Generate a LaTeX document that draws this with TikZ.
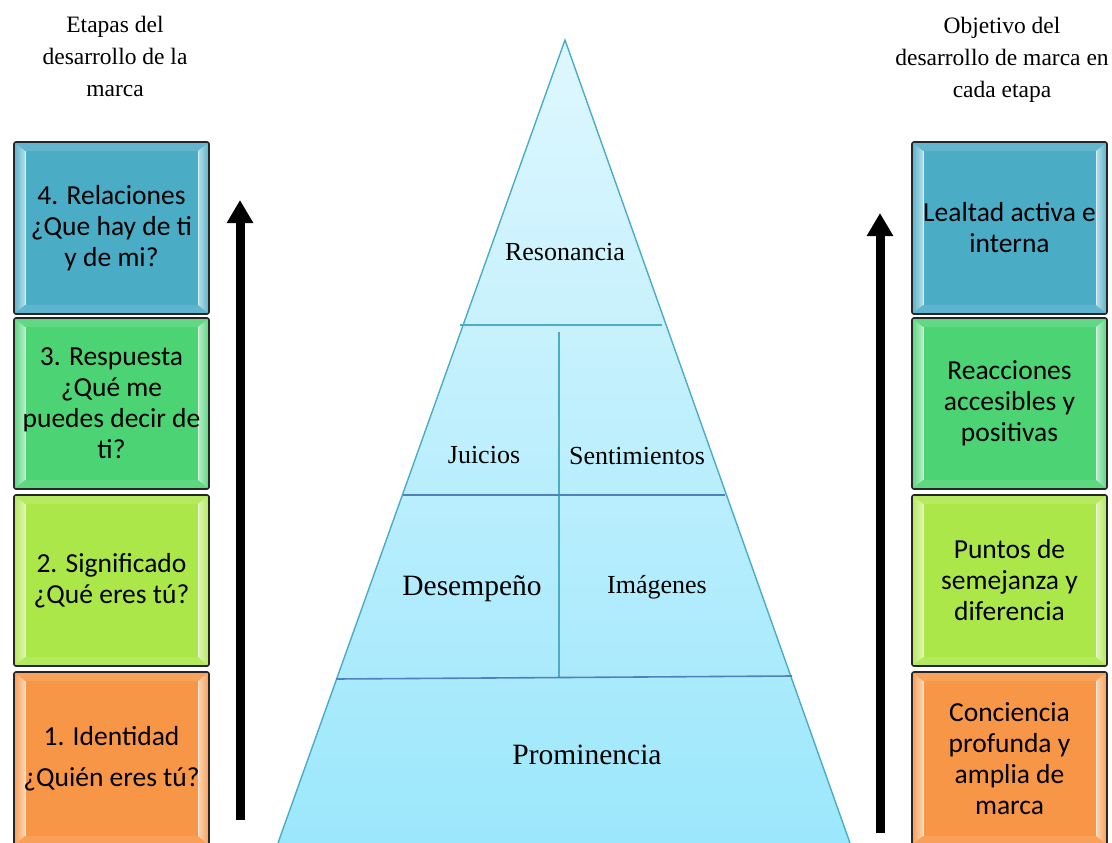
\documentclass[tikz,border=0pt]{standalone}
\usepackage{fontspec}
\setmainfont{Liberation Serif}
\newfontfamily\boxfont{Carlito}
\usetikzlibrary{arrows.meta}
\definecolor{boxblue}{HTML}{4BACC6}
\definecolor{boxgreen}{HTML}{4CD373}
\definecolor{boxlime}{HTML}{ACE74A}
\definecolor{boxorange}{HTML}{F79646}
\definecolor{pyrtop}{HTML}{DFF7FE}
\definecolor{pyrbot}{HTML}{9CE7FC}
\definecolor{pyrline}{HTML}{4BACC6}
\definecolor{pyrdark}{HTML}{4F81BD}
\definecolor{boxedge}{HTML}{262626}
\tikzset{
  boxtext/.style={align=center, inner sep=0pt, font=\boxfont\fontsize{27.5}{31}\selectfont},
  boxborder/.style={draw=boxedge, line width=1.6pt, rounded corners=2pt},
  titletext/.style={align=center, inner sep=0pt, font=\fontsize{23.5}{32}\selectfont},
  pyrsmall/.style={inner sep=0pt, font=\fontsize{26}{30}\selectfont},
  pyrlarge/.style={inner sep=0pt, font=\fontsize{29.5}{34}\selectfont},
  pyrsep/.style={draw=pyrline, line width=1.4pt},
  pyrsepdark/.style={draw=pyrdark, line width=1.6pt},
  uparrow/.style={line width=9pt, -{Triangle[width=25pt,length=23pt]}},
}
% name, x1, y1, x2, y2, colour, text
\newcommand\bevbox[7]{%
  \fill[#6] (#2,#3) rectangle (#4,#5);
  \fill[#6!88!white] (#2,#3) -- (#4,#3) -- (#4-11,#3+9) -- (#2+11,#3+9) -- cycle;
  \fill[#6!90!white] (#2,#5) -- (#4,#5) -- (#4-11,#5-9) -- (#2+11,#5-9) -- cycle;
  \shade[left color=#6!92!white, right color=#6!40!white] (#2,#3) -- (#2+11,#3+9) -- (#2+11,#5-9) -- (#2,#5) -- cycle;
  \shade[left color=#6!40!white, right color=#6!92!white] (#4,#3) -- (#4-11,#3+9) -- (#4-11,#5-9) -- (#4,#5) -- cycle;
  \draw[#6!20!white, line width=0.8pt] (#2+11,#3+9) -- (#2+11,#5-9);
  \draw[#6!20!white, line width=0.8pt] (#4-11,#3+9) -- (#4-11,#5-9);
  \draw[boxborder] (#2,#3) rectangle (#4,#5);
  \node[boxtext] (#1) at ({(#2+#4)/2},{(#3+#5)/2}) {#7};
}
\begin{document}
\begin{tikzpicture}[x=1pt,y=-1pt]
\useasboundingbox (0,0) rectangle (1112,843);
\clip (0,0) rectangle (1112,843);

% titles
\node[titletext] (tleft) at (115,56) {Etapas del\\desarrollo de la\\marca};
\node[titletext] (tright) at (1002,60) {Objetivo del\\desarrollo de marca en\\cada etapa};

% pyramid
\coordinate (apex) at (565,40);
\coordinate (bl) at (278,843);
\coordinate (br) at (850,843);
\shade[top color=pyrtop, bottom color=pyrbot] (apex) -- (bl) -- (br) -- cycle;
\draw[pyrsep] (bl) -- (apex) -- (br);
\coordinate (h1l) at (460,325); \coordinate (h1r) at (662,325);
\coordinate (h2l) at (403,495); \coordinate (h2r) at (725,495);
\coordinate (h3l) at (336,679); \coordinate (h3r) at (792,676);
\coordinate (v1t) at (559,332); \coordinate (v1b) at (559,495);
\coordinate (v2b) at (559,678);
\draw[pyrsep] (h1l) -- (h1r);
\draw[pyrsep] (v1t) -- (v1b);
\draw[pyrsep] (v1b) -- (v2b);
\draw[pyrsepdark] (h2l) -- (h2r);
\draw[pyrsepdark] (h3l) -- (h3r);

\node[pyrsmall] (reso) at (565,252) {Resonancia};
\node[pyrsmall] (juic) at (484,455) {Juicios};
\node[pyrsmall] (sent) at (637,456) {Sentimientos};
\node[pyrlarge] (dese) at (472,589) {Desempeño};
\node[pyrsmall] (imag) at (657,587) {Imágenes};
\node[pyrlarge] (prom) at (587,755) {Prominencia};

% left boxes
\bevbox{l4}{14}{142}{209}{314}{boxblue}{4. Relaciones\\¿Que hay de ti\\y de mi?}
\bevbox{l3}{14}{318}{209}{489}{boxgreen}{3. Respuesta\\¿Qué me\\puedes decir de\\ti?}
\bevbox{l2}{14}{495}{209}{666}{boxlime}{2. Significado\\¿Qué eres tú?}
\bevbox{l1}{14}{672}{209}{845}{boxorange}{1. Identidad\\[10pt]¿Quién eres tú?}

% right boxes
\bevbox{r4}{912}{142}{1107}{314}{boxblue}{Lealtad activa e\\interna}
\bevbox{r3}{912}{318}{1107}{489}{boxgreen}{Reacciones\\accesibles y\\positivas}
\bevbox{r2}{912}{495}{1107}{666}{boxlime}{Puntos de\\semejanza y\\diferencia}
\bevbox{r1}{912}{672}{1107}{845}{boxorange}{Conciencia\\profunda y\\amplia de\\marca}

% arrows
\coordinate (la0) at (240,820); \coordinate (la1) at (240,200);
\coordinate (ra0) at (880,833); \coordinate (ra1) at (880,213);
\draw[uparrow] (la0) -- (la1);
\draw[uparrow] (ra0) -- (ra1);
\end{tikzpicture}
\end{document}
